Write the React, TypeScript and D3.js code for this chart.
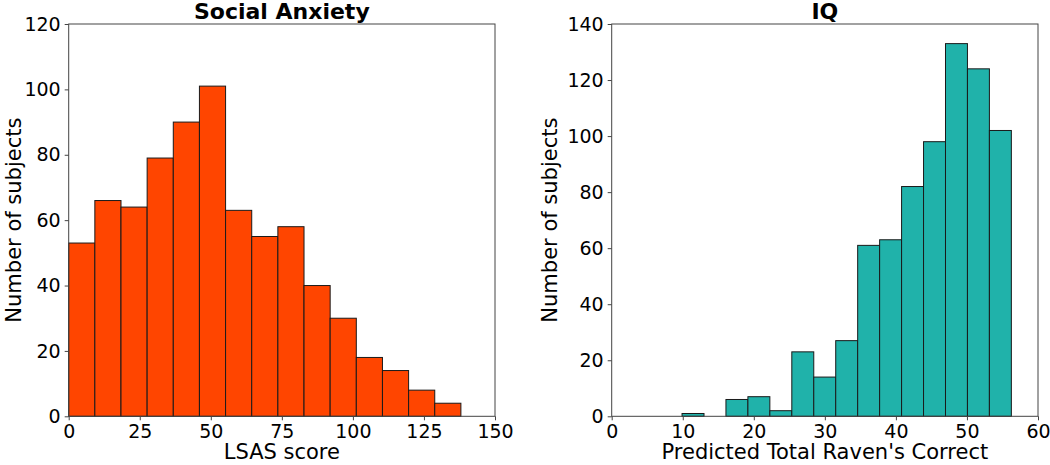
import { useEffect, useRef } from 'react';
import * as d3 from 'd3';

// LSAS histogram: 15 bins from 0 to 138
const lsasRange = [0, 138];
const lsasCounts = [53, 66, 64, 79, 90, 101, 63, 55, 58, 40, 30, 18, 14, 8, 4];
const lsasTicksX = [0, 25, 50, 75, 100, 125, 150];
const lsasTicksY = [0, 20, 40, 60, 80, 100, 120];

// Raven histogram: 15 bins from ~9.9 to ~56.2
const ravenRange = [9.9, 56.25];
const ravenCounts = [1, 0, 6, 7, 2, 23, 14, 27, 61, 63, 82, 98, 133, 124, 102];
const ravenTicksX = [0, 10, 20, 30, 40, 50, 60];
const ravenTicksY = [0, 20, 40, 60, 80, 100, 120, 140];

const FONT = 'DejaVu Sans, sans-serif';

function drawHist(svg, opts) {
  const { left, right, top, bottom, xMax, yMax, range, counts, ticksX, ticksY, fill, title, xLabel, yLabelX } = opts;
  const x = d3.scaleLinear().domain([0, xMax]).range([left, right]);
  const y = d3.scaleLinear().domain([0, yMax]).range([bottom, top]);
  const w = (range[1] - range[0]) / counts.length;
  const bins = counts.map((c, i) => ({ x0: range[0] + i * w, x1: range[0] + (i + 1) * w, c }));

  const g = svg.append('g');

  g.selectAll('rect.bar')
    .data(bins.filter(b => b.c > 0))
    .enter()
    .append('rect')
    .attr('class', 'bar')
    .attr('x', d => x(d.x0))
    .attr('width', d => x(d.x1) - x(d.x0))
    .attr('y', d => y(d.c))
    .attr('height', d => y(0) - y(d.c))
    .attr('fill', fill)
    .attr('stroke', '#1a1a1a')
    .attr('stroke-width', 1);

  // frame
  g.append('rect')
    .attr('x', left)
    .attr('y', top)
    .attr('width', right - left)
    .attr('height', bottom - top)
    .attr('fill', 'none')
    .attr('stroke', '#444')
    .attr('stroke-width', 1);

  const xAxis = g.append('g')
    .attr('transform', `translate(0,${bottom})`)
    .call(d3.axisBottom(x).tickValues(ticksX).tickSize(4).tickPadding(4));
  xAxis.select('.domain').remove();
  xAxis.selectAll('text').attr('font-size', 19).attr('font-family', FONT).attr('fill', '#000');
  xAxis.selectAll('line').attr('stroke', '#444');

  const yAxis = g.append('g')
    .attr('transform', `translate(${left},0)`)
    .call(d3.axisLeft(y).tickValues(ticksY).tickSize(4).tickPadding(4));
  yAxis.select('.domain').remove();
  yAxis.selectAll('text').attr('font-size', 19).attr('font-family', FONT).attr('fill', '#000');
  yAxis.selectAll('line').attr('stroke', '#444');

  g.append('text')
    .attr('x', (left + right) / 2)
    .attr('y', 19)
    .attr('text-anchor', 'middle')
    .attr('font-family', FONT)
    .attr('font-weight', 'bold')
    .attr('font-size', 22)
    .text(title);

  g.append('text')
    .attr('x', (left + right) / 2)
    .attr('y', 459)
    .attr('text-anchor', 'middle')
    .attr('font-family', FONT)
    .attr('font-size', 21)
    .text(xLabel);

  g.append('text')
    .attr('transform', `translate(${yLabelX},${(top + bottom) / 2}) rotate(-90)`)
    .attr('text-anchor', 'middle')
    .attr('font-family', FONT)
    .attr('font-size', 21)
    .text('Number of subjects');
}

export default function App() {
  const ref = useRef(null);

  useEffect(() => {
    const svg = d3.select(ref.current);
    svg.selectAll('*').remove();

    drawHist(svg, {
      left: 68.7, right: 495, top: 24, bottom: 416.3,
      xMax: 150, yMax: 120,
      range: lsasRange, counts: lsasCounts,
      ticksX: lsasTicksX, ticksY: lsasTicksY,
      fill: '#FF4500', title: 'Social Anxiety', xLabel: 'LSAS score',
      yLabelX: 20.5,
    });

    drawHist(svg, {
      left: 611.7, right: 1038, top: 24, bottom: 416.3,
      xMax: 60, yMax: 140,
      range: ravenRange, counts: ravenCounts,
      ticksX: ravenTicksX, ticksY: ravenTicksY,
      fill: '#20B2AA', title: 'IQ', xLabel: "Predicted Total Raven's Correct",
      yLabelX: 557,
    });
  }, []);

  return (
    <svg
      ref={ref}
      width={1050}
      height={465}
      style={{ position: 'absolute', left: 0, top: 0, background: '#fff' }}
    />
  );
}
